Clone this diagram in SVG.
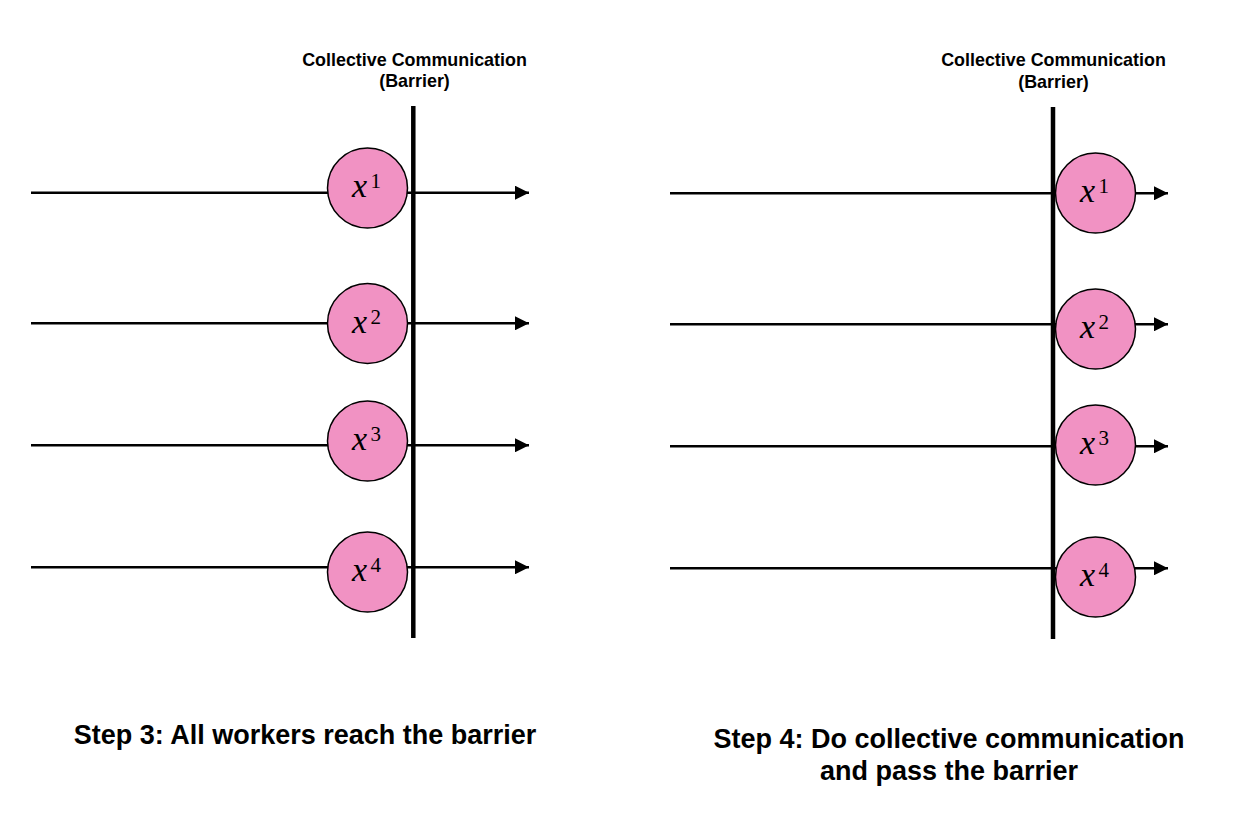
<svg xmlns="http://www.w3.org/2000/svg" width="1252" height="824" viewBox="0 0 1252 824">
<defs>
<style>
.ln{stroke:#000;stroke-width:2.5;fill:none}
.bar{stroke:#000;stroke-width:4.5;fill:none}
.nd{fill:#F192C3;stroke:#000;stroke-width:1.5}
.ttl{font-family:"Liberation Sans",Arial,sans-serif;font-weight:bold;font-size:17.9px;text-anchor:middle;fill:#000}
.cap{font-family:"Liberation Sans",Arial,sans-serif;font-weight:bold;font-size:27px;text-anchor:middle;fill:#000}
.mx{font-family:"Liberation Serif","Times New Roman",serif;font-style:italic;font-size:34px;fill:#000}
.ms{font-family:"Liberation Serif","Times New Roman",serif;font-size:21px;fill:#000}
</style>
<marker id="ah" viewBox="0 0 14 14" refX="14" refY="7" markerWidth="14" markerHeight="14" markerUnits="userSpaceOnUse" orient="auto">
<path d="M0,0 L14,7 L0,14 Z" fill="#000"/>
</marker>
</defs>
<rect width="1252" height="824" fill="#fff"/>
<g id="connectors">
<line class="ln" x1="31" y1="192.7" x2="529" y2="192.7" marker-end="url(#ah)"/>
<line class="ln" x1="31" y1="323.3" x2="529" y2="323.3" marker-end="url(#ah)"/>
<line class="ln" x1="31" y1="445.3" x2="529" y2="445.3" marker-end="url(#ah)"/>
<line class="ln" x1="31" y1="567.3" x2="529" y2="567.3" marker-end="url(#ah)"/>
<line class="ln" x1="670" y1="193.3" x2="1168" y2="193.3" marker-end="url(#ah)"/>
<line class="ln" x1="670" y1="324.3" x2="1168" y2="324.3" marker-end="url(#ah)"/>
<line class="ln" x1="670" y1="446.3" x2="1168" y2="446.3" marker-end="url(#ah)"/>
<line class="ln" x1="670" y1="568.3" x2="1168" y2="568.3" marker-end="url(#ah)"/>
</g>
<g id="barrier-left">
<line class="bar" x1="413.3" y1="106" x2="413.3" y2="638"/>
<text class="ttl" x="414.5" y="65.5">Collective Communication</text>
<text class="ttl" x="414.5" y="87">(Barrier)</text>
</g>
<g id="barrier-right">
<line class="bar" x1="1053" y1="107" x2="1053" y2="639"/>
<text class="ttl" x="1053.5" y="66">Collective Communication</text>
<text class="ttl" x="1053.5" y="87.5">(Barrier)</text>
</g>
<g id="L1"><circle class="nd" cx="367.5" cy="188" r="40"/><text class="mx" x="352" y="197">x</text><text class="ms" x="370.5" y="188">1</text></g>
<g id="L2"><circle class="nd" cx="367.5" cy="323.5" r="40"/><text class="mx" x="352" y="332.5">x</text><text class="ms" x="370.5" y="323.5">2</text></g>
<g id="L3"><circle class="nd" cx="367.5" cy="441" r="40"/><text class="mx" x="352" y="450">x</text><text class="ms" x="370.5" y="441">3</text></g>
<g id="L4"><circle class="nd" cx="367.5" cy="572" r="40"/><text class="mx" x="352" y="581">x</text><text class="ms" x="370.5" y="572">4</text></g>
<g id="R1"><circle class="nd" cx="1095.5" cy="193" r="40"/><text class="mx" x="1080" y="202">x</text><text class="ms" x="1098.5" y="193">1</text></g>
<g id="R2"><circle class="nd" cx="1095.5" cy="329" r="40"/><text class="mx" x="1080" y="338">x</text><text class="ms" x="1098.5" y="329">2</text></g>
<g id="R3"><circle class="nd" cx="1095.5" cy="445" r="40"/><text class="mx" x="1080" y="454">x</text><text class="ms" x="1098.5" y="445">3</text></g>
<g id="R4"><circle class="nd" cx="1095.5" cy="577" r="40"/><text class="mx" x="1080" y="586">x</text><text class="ms" x="1098.5" y="577">4</text></g>
<g id="caption-left">
<text class="cap" x="305" y="743.5">Step 3: All workers reach the barrier</text>
</g>
<g id="caption-right">
<text class="cap" x="949" y="747.5">Step 4: Do collective communication</text>
<text class="cap" x="949" y="779.5">and pass the barrier</text>
</g>
</svg>
